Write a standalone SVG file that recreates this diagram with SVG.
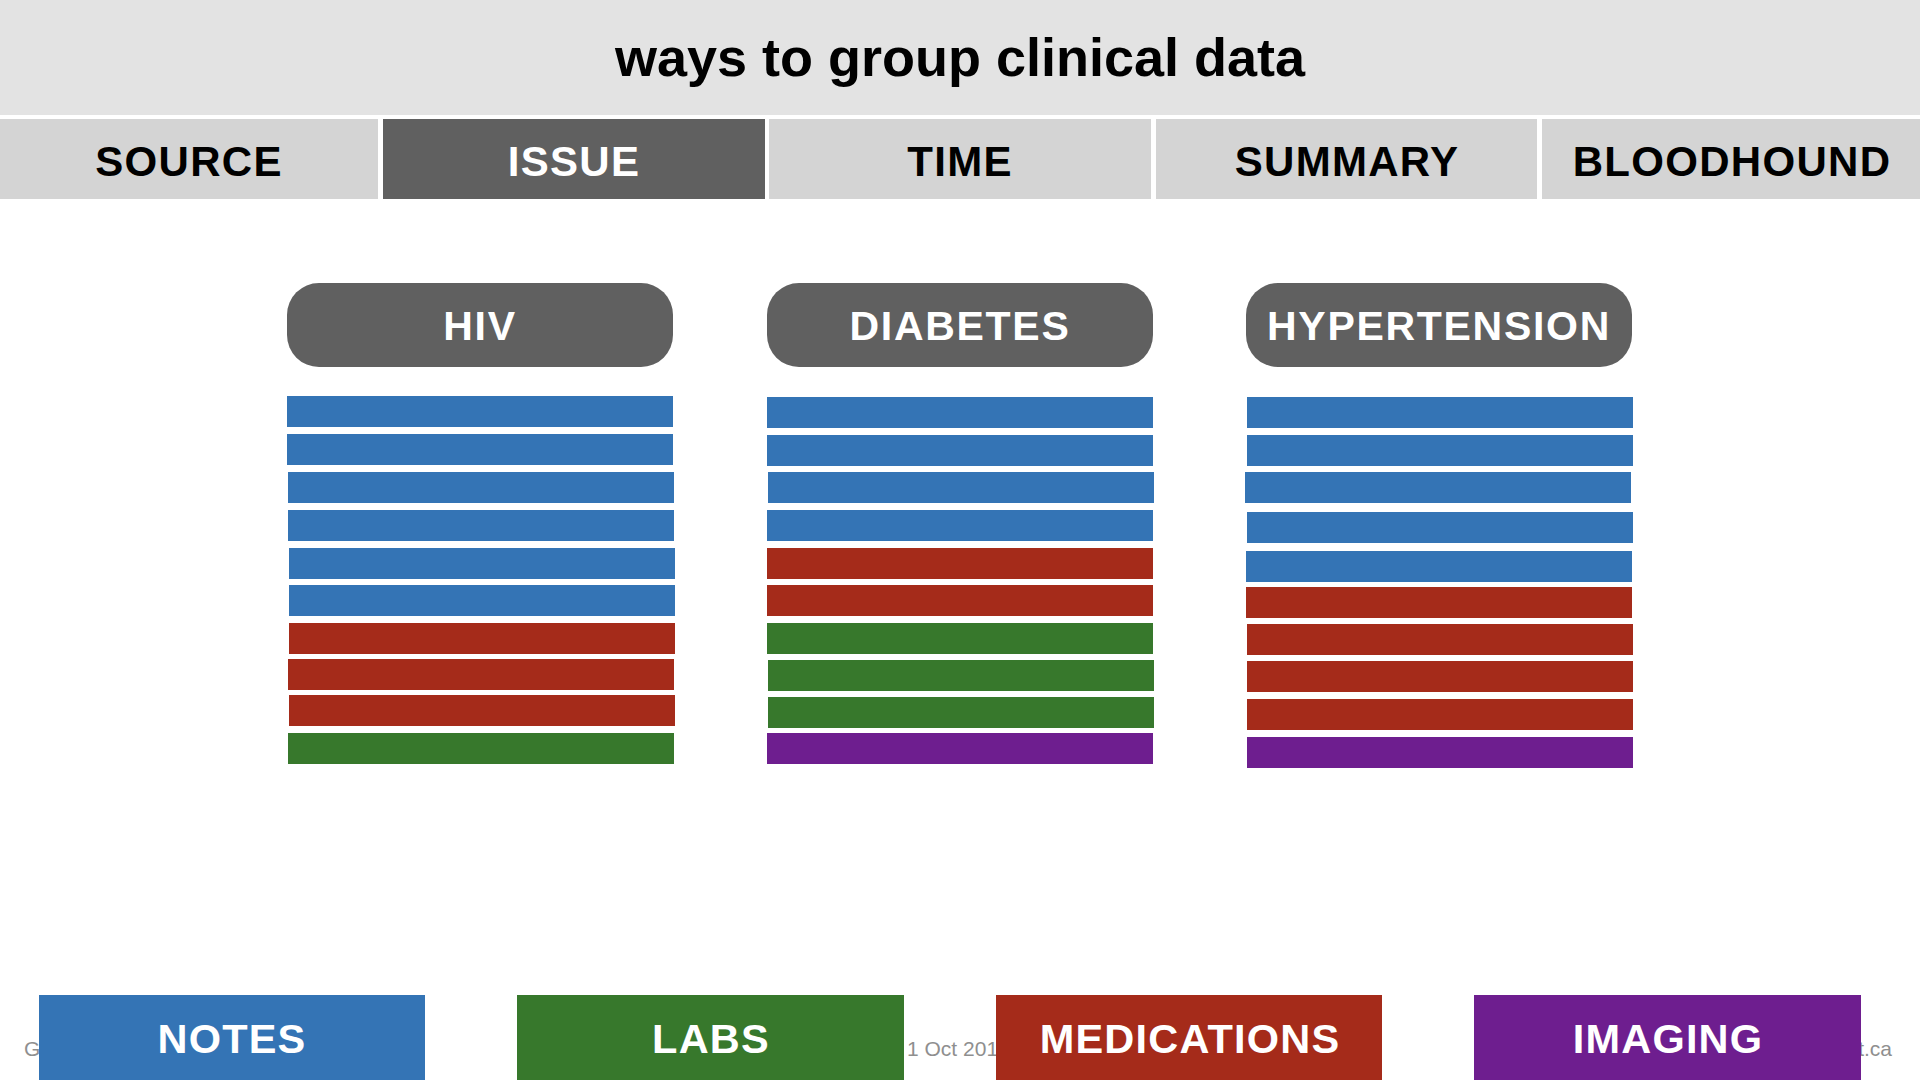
<svg xmlns="http://www.w3.org/2000/svg" width="1920" height="1080" viewBox="0 0 1920 1080">
<style>
  .hdr { fill: #e3e3e3; }
  .tab { fill: #d4d4d4; }
  .tab-on { fill: #606060; }
  .tablbl { font-family: "Liberation Sans", Arial, sans-serif; font-weight: bold; font-size: 42px; letter-spacing: 1.3px; text-anchor: middle; fill: #000; }
  .tablbl-on { fill: #fff; }
  .title { font-family: "Liberation Sans", Arial, sans-serif; font-weight: bold; font-size: 54px; text-anchor: middle; fill: #000; }
  .pill { fill: #606060; }
  .pilllbl { font-family: "Liberation Sans", Arial, sans-serif; font-weight: bold; font-size: 41px; letter-spacing: 1.7px; text-anchor: middle; fill: #fff; }
  .n { fill: #3474b5; }
  .m { fill: #a52b1a; }
  .l { fill: #37782c; }
  .i { fill: #6e1e8f; }
  .leglbl { font-family: "Liberation Sans", Arial, sans-serif; font-weight: bold; font-size: 41.5px; letter-spacing: 1.2px; text-anchor: middle; fill: #fff; }
  .foot { font-family: "Liberation Sans", Arial, sans-serif; font-size: 21px; fill: #8f8f8f; }
</style>
<rect width="1920" height="1080" fill="#ffffff"/>

<g id="header">
  <rect class="hdr" x="0" y="0" width="1920" height="115"/>
  <text class="title" x="960" y="76">ways to group clinical data</text>
</g>

<g id="tabs">
  <g id="tab-source">
    <rect class="tab" x="0" y="119" width="378" height="80"/>
    <text class="tablbl" x="189" y="176">SOURCE</text>
  </g>
  <g id="tab-issue">
    <rect class="tab-on" x="383" y="119" width="382" height="80"/>
    <text class="tablbl tablbl-on" x="574" y="176">ISSUE</text>
  </g>
  <g id="tab-time">
    <rect class="tab" x="769" y="119" width="382" height="80"/>
    <text class="tablbl" x="960" y="176">TIME</text>
  </g>
  <g id="tab-summary">
    <rect class="tab" x="1156" y="119" width="381" height="80"/>
    <text class="tablbl" x="1347" y="176">SUMMARY</text>
  </g>
  <g id="tab-bloodhound">
    <rect class="tab" x="1542" y="119" width="378" height="80"/>
    <text class="tablbl" x="1732" y="176">BLOODHOUND</text>
  </g>
</g>

<g id="footer-text">
  <text class="foot" x="24" y="1056">G</text>
  <text class="foot" x="907" y="1056">1 Oct 201</text>
  <text class="foot" x="1892" y="1056" text-anchor="end">t.ca</text>
</g>

<g id="col-hiv">
  <rect class="pill" x="287" y="283" width="386" height="84" rx="32"/>
  <text class="pilllbl" x="480" y="340">HIV</text>
  <rect class="n" x="287" y="396" width="386" height="31"/>
  <rect class="n" x="287" y="434" width="386" height="31"/>
  <rect class="n" x="288" y="472" width="386" height="31"/>
  <rect class="n" x="288" y="510" width="386" height="31"/>
  <rect class="n" x="289" y="548" width="386" height="31"/>
  <rect class="n" x="289" y="585" width="386" height="31"/>
  <rect class="m" x="289" y="623" width="386" height="31"/>
  <rect class="m" x="288" y="659" width="386" height="31"/>
  <rect class="m" x="289" y="695" width="386" height="31"/>
  <rect class="l" x="288" y="733" width="386" height="31"/>
</g>

<g id="col-diabetes">
  <rect class="pill" x="767" y="283" width="386" height="84" rx="32"/>
  <text class="pilllbl" x="960" y="340">DIABETES</text>
  <rect class="n" x="767" y="397" width="386" height="31"/>
  <rect class="n" x="767" y="435" width="386" height="31"/>
  <rect class="n" x="768" y="472" width="386" height="31"/>
  <rect class="n" x="767" y="510" width="386" height="31"/>
  <rect class="m" x="767" y="548" width="386" height="31"/>
  <rect class="m" x="767" y="585" width="386" height="31"/>
  <rect class="l" x="767" y="623" width="386" height="31"/>
  <rect class="l" x="768" y="660" width="386" height="31"/>
  <rect class="l" x="768" y="697" width="386" height="31"/>
  <rect class="i" x="767" y="733" width="386" height="31"/>
</g>

<g id="col-hypertension">
  <rect class="pill" x="1246" y="283" width="386" height="84" rx="32"/>
  <text class="pilllbl" x="1439" y="340">HYPERTENSION</text>
  <rect class="n" x="1247" y="397" width="386" height="31"/>
  <rect class="n" x="1247" y="435" width="386" height="31"/>
  <rect class="n" x="1245" y="472" width="386" height="31"/>
  <rect class="n" x="1247" y="512" width="386" height="31"/>
  <rect class="n" x="1246" y="551" width="386" height="31"/>
  <rect class="m" x="1246" y="587" width="386" height="31"/>
  <rect class="m" x="1247" y="624" width="386" height="31"/>
  <rect class="m" x="1247" y="661" width="386" height="31"/>
  <rect class="m" x="1247" y="699" width="386" height="31"/>
  <rect class="i" x="1247" y="737" width="386" height="31"/>
</g>

<g id="legend">
  <g id="legend-notes">
    <rect class="n" x="39" y="995" width="386" height="85"/>
    <text class="leglbl" x="232" y="1053">NOTES</text>
  </g>
  <g id="legend-labs">
    <rect class="l" x="517" y="995" width="387" height="85"/>
    <text class="leglbl" x="711" y="1053">LABS</text>
  </g>
  <g id="legend-medications">
    <rect class="m" x="996" y="995" width="386" height="85"/>
    <text class="leglbl" x="1190" y="1053">MEDICATIONS</text>
  </g>
  <g id="legend-imaging">
    <rect class="i" x="1474" y="995" width="387" height="85"/>
    <text class="leglbl" x="1668" y="1053">IMAGING</text>
  </g>
</g>

<g id="connectors"></g>
</svg>
